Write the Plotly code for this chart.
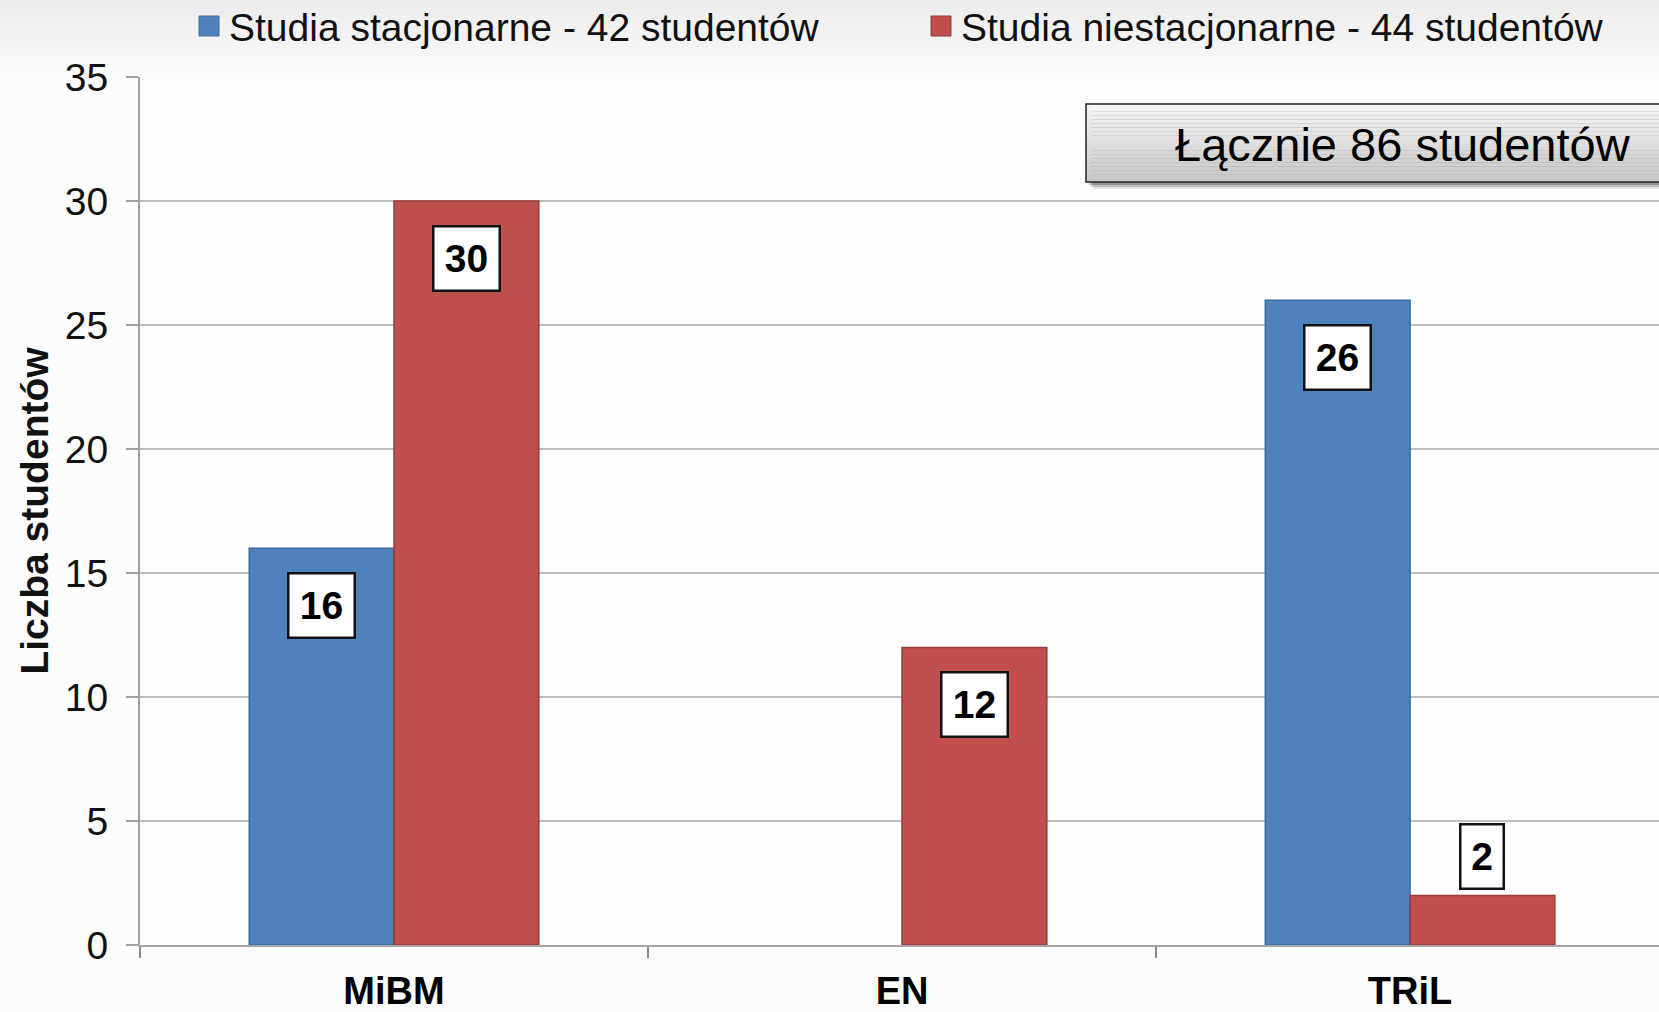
import plotly.graph_objects as go

# --- data ---------------------------------------------------------------
categories = ["MiBM", "EN", "TRiL"]
series_names = ["Studia stacjonarne - 42 studentów",
                "Studia niestacjonarne - 44 studentów"]
stacjonarne = [16, 0, 26]
niestacjonarne = [30, 12, 2]
y_tick_values = [0, 5, 10, 15, 20, 25, 30, 35]
y_title = "Liczba studentów"
total_label = "Łącznie 86 studentów"

series_values = [stacjonarne, niestacjonarne]
bar_colors = ["#4F81BD", "#C0504D"]
bar_edges = ["#3B6BA3", "#9A3B38"]

# --- page geometry (pixels) ---------------------------------------------
FIG_W, FIG_H = 1659, 1012
M_L, M_T, M_B, M_R = 140, 77, 67, 0
PLOT_W = FIG_W - M_L - M_R
PLOT_H = FIG_H - M_T - M_B


def px_x(px):
    return (px - M_L) / PLOT_W


def px_y(py):
    return (FIG_H - M_B - py) / PLOT_H


BARGAP = 0.43
bar_w = (1 - BARGAP) / len(series_values)

fig = go.Figure()
for name, vals, col, edge in zip(series_names, series_values, bar_colors, bar_edges):
    fig.add_trace(go.Bar(
        x=categories, y=vals, name=name,
        marker=dict(color=col,
                    line=dict(color=edge, width=[1.5 if v else 0 for v in vals])),
        showlegend=False,
    ))

shapes = []
annotations = []

# soft grey band across the top of the page
top_px = 78
n_bands = 16
for k in range(n_bands):
    t = k / (n_bands - 1)
    g = int(236 + (252 - 236) * t)
    y0 = top_px * k / n_bands
    y1 = top_px * (k + 1) / n_bands
    shapes.append(dict(type="rect", xref="paper", yref="paper",
                       x0=px_x(0), x1=px_x(FIG_W + 5),
                       y0=px_y(y1), y1=px_y(y0),
                       fillcolor=f"rgb({g},{g},{g})", line=dict(width=0),
                       layer="below"))

# value labels in white boxes
for j, vals in enumerate(series_values):
    offset = (j - (len(series_values) - 1) / 2) * bar_w
    for i, v in enumerate(vals):
        if v == 0:
            continue
        txt = str(v)
        inside = v >= 5
        annotations.append(dict(
            x=i + offset, y=v, xref="x", yref="y",
            text=f"<b>{txt}</b>", showarrow=False,
            yanchor="top" if inside else "bottom",
            yshift=-24 if inside else 5,
            font=dict(family="Liberation Sans, Arial", size=39, color="#000"),
            bgcolor="#FFFFFF", bordercolor="#111111", borderwidth=2.5,
            borderpad=3, width=58 if len(txt) > 1 else 35, height=56,
            align="center", valign="middle",
        ))

# legend drawn by hand so the swatches can be large
legend_pos = [(199, 227), (931, 959)]
for name, col, edge, (sq_x, tx_x) in zip(series_names, bar_colors, bar_edges, legend_pos):
    shapes.append(dict(type="rect", xref="paper", yref="paper",
                       x0=px_x(sq_x), x1=px_x(sq_x + 20),
                       y0=px_y(36), y1=px_y(16),
                       fillcolor=col, line=dict(color=edge, width=1)))
    annotations.append(dict(
        x=px_x(tx_x), y=px_y(27), xref="paper", yref="paper",
        xanchor="left", yanchor="middle", showarrow=False, text=name,
        font=dict(family="Liberation Sans, Arial", size=39, color="#111"),
    ))

# total box with drop shadow and vertical gradient
bx0, bx1, by0, by1 = 1086, FIG_W + 20, 104, 182
for s, a in [(7, 0.10), (5, 0.16), (3, 0.22)]:
    shapes.append(dict(type="rect", xref="paper", yref="paper",
                       x0=px_x(bx0 + s), x1=px_x(bx1 + s),
                       y0=px_y(by1 + s), y1=px_y(by0 + s),
                       fillcolor=f"rgba(0,0,0,{a})", line=dict(width=0)))
n_grad = 20
for k in range(n_grad):
    t = k / (n_grad - 1)
    g = int(246 - (246 - 200) * t)
    ya = by0 + (by1 - by0) * k / n_grad
    yb = by0 + (by1 - by0) * (k + 1) / n_grad
    shapes.append(dict(type="rect", xref="paper", yref="paper",
                       x0=px_x(bx0), x1=px_x(bx1),
                       y0=px_y(yb), y1=px_y(ya),
                       fillcolor=f"rgb({g},{g},{g})", line=dict(width=0)))
shapes.append(dict(type="rect", xref="paper", yref="paper",
                   x0=px_x(bx0), x1=px_x(bx1), y0=px_y(by1), y1=px_y(by0),
                   fillcolor="rgba(0,0,0,0)", line=dict(color="#222", width=1.5)))
annotations.append(dict(
    x=px_x(1403), y=px_y(144), xref="paper", yref="paper",
    xanchor="center", yanchor="middle", showarrow=False, text=total_label,
    font=dict(family="Liberation Sans, Arial", size=47, color="#000"),
))

fig.update_layout(
    width=FIG_W, height=FIG_H,
    margin=dict(l=M_L, r=M_R, t=M_T, b=M_B, autoexpand=False),
    paper_bgcolor="#FCFCFC", plot_bgcolor="#FDFDFD",
    barmode="group", bargap=BARGAP, bargroupgap=0,
    shapes=shapes, annotations=annotations,
    showlegend=False,
)

fig.update_xaxes(
    type="category", range=[-0.5, 2.49],
    showline=True, linecolor="#A6A6A6", linewidth=2,
    ticks="outside", tickson="boundaries", ticklen=11,
    tickcolor="#8C8C8C", tickwidth=1.5,
    showgrid=False, automargin=False,
    ticklabelstandoff=11,
    tickfont=dict(family="Liberation Sans, Arial", size=38, color="#000"),
    tickprefix="<b>", ticksuffix="</b>",
)

fig.update_yaxes(
    range=[0, 35], tickvals=y_tick_values,
    showline=True, linecolor="#A0A0A0", linewidth=2,
    ticks="outside", ticklen=12, tickcolor="#A0A0A0", tickwidth=2,
    showgrid=True, gridcolor="#C0C0C0", gridwidth=2,
    zeroline=False, automargin=False,
    ticklabelstandoff=10,
    tickfont=dict(family="Liberation Sans, Arial", size=39, color="#111"),
    title=dict(text=f"<b>{y_title}</b>", standoff=4,
               font=dict(family="Liberation Sans, Arial", size=39, color="#111")),
)

fig.write_html("out.html")
